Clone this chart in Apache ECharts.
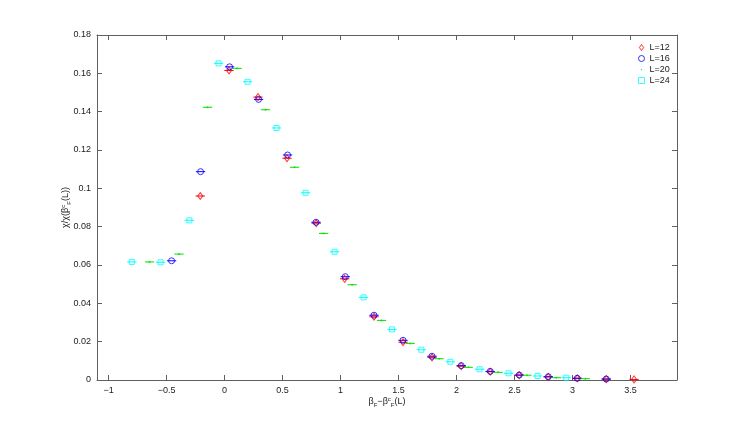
<!DOCTYPE html>
<html>
<head>
<meta charset="utf-8">
<script src="https://cdn.jsdelivr.net/npm/echarts@6/dist/echarts.min.js"></script>
<style>
  html, body { margin: 0; padding: 0; background: #fff; }
  #chart { width: 747px; height: 428px; }
</style>
</head>
<body>
<div id="chart"></div>
<script>
// values
const names = ['L=12', 'L=16', 'L=20', 'L=24'];

const x12 = [-0.21, 0.038, 0.288, 0.538, 0.79, 1.035, 1.288, 1.538, 1.788, 2.04, 2.29, 2.54, 2.79, 3.04, 3.29, 3.53];
const y12 = [0.096, 0.1615, 0.1476, 0.1157, 0.0818, 0.0528, 0.0330, 0.0197, 0.0118, 0.0072, 0.0043, 0.0025, 0.0016, 0.0009, 0.0005, 0.0003];

const x16 = [-0.457, -0.207, 0.043, 0.293, 0.543, 0.788, 1.04, 1.288, 1.538, 1.788, 2.04, 2.29, 2.54, 2.79, 3.04, 3.29];
const y16 = [0.0622, 0.1087, 0.1634, 0.1464, 0.1174, 0.0823, 0.0539, 0.0338, 0.0207, 0.0124, 0.0075, 0.0045, 0.0026, 0.0017, 0.0009, 0.0005];

const x20 = [-0.647, -0.393, -0.147, 0.107, 0.353, 0.603, 0.854, 1.10, 1.353, 1.60, 1.85, 2.10, 2.357, 2.607, 2.86, 3.11];
const y20 = [0.0616, 0.0657, 0.1423, 0.1626, 0.1410, 0.1110, 0.0765, 0.0497, 0.0311, 0.0191, 0.0111, 0.0066, 0.0040, 0.0025, 0.0012, 0.0007];

const x24 = [-0.80, -0.552, -0.304, -0.052, 0.198, 0.448, 0.698, 0.948, 1.198, 1.443, 1.696, 1.946, 2.198, 2.448, 2.698, 2.945];
const y24 = [0.0616, 0.0614, 0.0833, 0.1652, 0.1556, 0.1315, 0.0977, 0.0669, 0.0431, 0.0264, 0.0158, 0.0095, 0.0056, 0.0035, 0.0021, 0.0012];

// horizontal error (x) per series
const xErr = [0.04, 0.04, 0.04, 0.04];

const xTicks = [-1, -0.5, 0, 0.5, 1, 1.5, 2, 2.5, 3, 3.5];

const colors = ['#ff0000', '#0000ff', '#00e000', '#00ffff'];
const symbols = ['diamond', 'circle', 'circle', 'rect'];
const sizes = [[5, 7], 6, 2, 5];
const legendIcons = ['path://M5,0L10,7L5,14L0,7Z', 'circle', 'path://M0,0M10,10M4,4h2v2h-2z', 'rect'];

const xs = [x12, x16, x20, x24];
const ys = [y12, y16, y20, y24];

const axisColor = '#606060';
const textColor = '#222';
const font = 'Liberation Sans, Arial, sans-serif';

const chart = echarts.init(document.getElementById('chart'));

function hollow(col) {
  return { color: 'rgba(255,255,255,0)', borderColor: col, borderWidth: 1 };
}

let series = [];
names.forEach(function(name, k) {
  const pts = xs[k].map(function(x, i) { return [x, ys[k][i], xErr[k]]; });
  const col = colors[k];
  series.push({
    type: 'scatter',
    name: name,
    data: pts,
    symbol: symbols[k],
    symbolSize: sizes[k],
    z: 3,
    itemStyle: k === 2 ? { color: col } : hollow(col)
  });
  series.push({
    type: 'custom',
    name: 'err ' + name,
    data: pts,
    silent: true,
    z: 2,
    renderItem: function(params, api) {
      const x = api.value(0), y = api.value(1), e = api.value(2);
      const a = api.coord([x - e, y]);
      const b = api.coord([x + e, y]);
      return {
        type: 'line',
        shape: { x1: a[0], y1: a[1], x2: b[0], y2: b[1] },
        style: { stroke: col, lineWidth: 1 }
      };
    }
  });
});

const nameRich = {
  b: { fontFamily: font, fontSize: 9, color: textColor },
  s: { fontFamily: font, fontSize: 6, color: textColor, verticalAlign: 'bottom', padding: [6, 0, 0, 0] },
  p: { fontFamily: font, fontSize: 6, color: textColor, verticalAlign: 'top', padding: [0, 0, 6, 0] }
};

const option = {
  animation: false,
  backgroundColor: '#fff',
  grid: { left: 97, right: 70, top: 35, bottom: 48 },
  legend: {
    orient: 'vertical',
    left: 633,
    top: 38,
    itemWidth: 6,
    itemHeight: 6,
    itemGap: 2,
    textStyle: { fontFamily: font, fontSize: 9, color: textColor },
    data: names.map(function(n, k) {
      return {
        name: n,
        icon: legendIcons[k],
        itemStyle: k === 2 ? { color: colors[k], borderWidth: 0 } : hollow(colors[k])
      };
    })
  },
  xAxis: [
    {
      type: 'value',
      min: -1.1,
      max: 3.9,
      position: 'bottom',
      name: '{b|β}{s|F}{b|−β}{p|c}{s|F}{b|(L)}',
      nameLocation: 'middle',
      nameGap: 16,
      nameMoveOverlap: false,
      nameTextStyle: { rich: nameRich },
      axisLine: { show: true, onZero: false, lineStyle: { color: axisColor } },
      axisTick: { show: true, inside: true, length: 5, customValues: xTicks, lineStyle: { color: axisColor } },
      axisLabel: {
        customValues: xTicks,
        fontFamily: font, fontSize: 9, color: textColor, margin: 6,
        formatter: function(v) { return String(v).replace('-', '−'); }
      },
      splitLine: { show: false }
    },
    {
      type: 'value',
      min: -1.1,
      max: 3.9,
      position: 'top',
      axisLine: { show: true, onZero: false, lineStyle: { color: axisColor } },
      axisTick: { show: true, inside: true, length: 5, customValues: xTicks, lineStyle: { color: axisColor } },
      axisLabel: { show: false },
      splitLine: { show: false }
    }
  ],
  yAxis: [
    {
      type: 'value',
      min: 0,
      max: 0.18,
      interval: 0.02,
      position: 'left',
      name: '{b|χ/χ(β}{p|c}{s|F}{b|(L))}',
      nameLocation: 'middle',
      nameRotate: 90,
      nameGap: 25,
      nameMoveOverlap: false,
      nameTextStyle: { rich: nameRich },
      axisLine: { show: true, onZero: false, lineStyle: { color: axisColor } },
      axisTick: { show: true, inside: true, length: 5, lineStyle: { color: axisColor } },
      axisLabel: { fontFamily: font, fontSize: 9, color: textColor, margin: 6 },
      splitLine: { show: false }
    },
    {
      type: 'value',
      min: 0,
      max: 0.18,
      interval: 0.02,
      position: 'right',
      axisLine: { show: true, onZero: false, lineStyle: { color: axisColor } },
      axisTick: { show: true, inside: true, length: 5, lineStyle: { color: axisColor } },
      axisLabel: { show: false },
      splitLine: { show: false }
    }
  ],
  series: series
};

chart.setOption(option);
</script>
</body>
</html>
